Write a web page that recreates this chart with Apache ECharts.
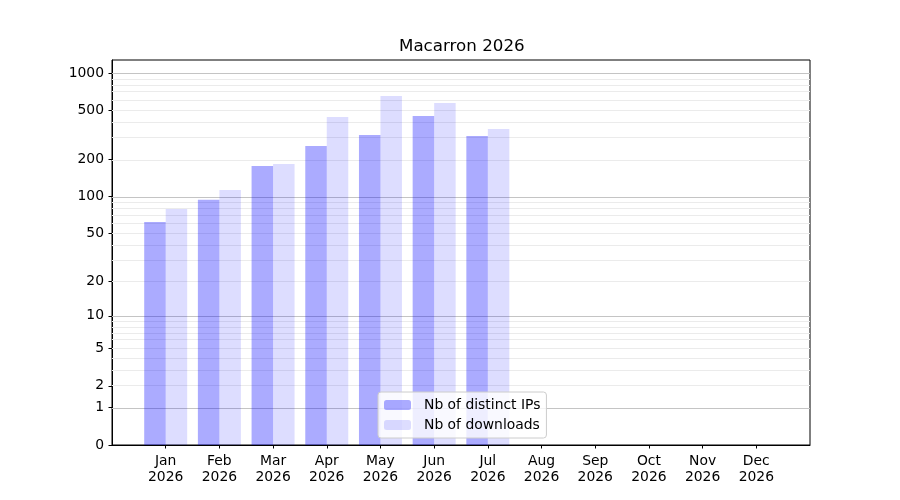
<!DOCTYPE html>
<html lang="en">
<head>
	<meta charset="UTF-8">
	<title>Macarron 2026</title>
	<script src="https://cdn.jsdelivr.net/npm/echarts@6/dist/echarts.min.js"></script>
	<style>
		html, body{
			width: 100%;
			height: 100%;
			padding: 0;
			margin: 0;
			background-color: #fff;
		}
		#main{
			width: 900px;
			height: 500px;
		}
	</style>
</head>
<body>
	<div id="main"></div>
</body>
<script>
	// 数据
	let months = ['Jan', 'Feb', 'Mar', 'Apr', 'May', 'Jun', 'Jul', 'Aug', 'Sep', 'Oct', 'Nov', 'Dec'];
	let year = '2026';
	let ipsData = [62, 94, 177, 257, 315, 450, 310, 0, 0, 0, 0, 0];
	let downloadsData = [79, 113, 184, 441, 652, 572, 353, 0, 0, 0, 0, 0];
	let yTicks = [0, 1, 2, 5, 10, 20, 50, 100, 200, 500, 1000];
	let majorGrid = [1, 10, 100, 1000];
	let minorGrid = [2, 3, 4, 5, 6, 7, 8, 9, 20, 30, 40, 50, 60, 70, 80, 90, 200, 300, 400, 500, 600, 700, 800, 900];

	// y = log10(1 + v)
	function tf(v){
		return Math.log10(1 + v);
	}

	let font = 'DejaVu Sans';
	// 前后各留一个空位
	let cats = [''].concat(months.map(m => m + '\n' + year), ['']);
	let pad = arr => ['-'].concat(arr.map(v => tf(v)), ['-']);

	let gridLines = [];
	minorGrid.forEach(v => {
		gridLines.push({yAxis: tf(v), lineStyle: {color: '#ebebeb', width: 1, type: 'solid'}});
	});
	majorGrid.forEach(v => {
		gridLines.push({yAxis: tf(v), lineStyle: {color: '#c4c4c4', width: 1, type: 'solid'}});
	});

	let myChart = echarts.init(document.getElementById('main'));
	myChart.setOption({
		animation: false,
		textStyle: {fontFamily: font},
		title: {
			text: 'Macarron 2026',
			left: 394,
			top: 33,
			textStyle: {fontFamily: font, fontSize: 16.7, fontWeight: 'normal', color: '#000'}
		},
		legend: {
			orient: 'vertical',
			left: 378,
			top: 392,
			itemWidth: 27,
			itemHeight: 10,
			itemGap: 6,
			padding: [6, 6, 6, 6],
			backgroundColor: 'rgba(255,255,255,0.8)',
			borderColor: '#cccccc',
			borderWidth: 1,
			borderRadius: 3,
			textStyle: {fontFamily: font, fontSize: 13.9, color: '#000', padding: [0, 0, 0, 8]},
			data: ['Nb of distinct IPs', 'Nb of downloads']
		},
		grid: {
			left: 112,
			right: 90,
			top: 60,
			bottom: 55,
			show: true,
			borderColor: '#000',
			borderWidth: 1,
			containLabel: false
		},
		xAxis: {
			type: 'category',
			data: cats,
			boundaryGap: false,
			axisLine: {lineStyle: {color: '#000', width: 1}},
			axisTick: {
				length: 3.5,
				lineStyle: {color: '#000'},
				interval: function(i){ return i > 0 && i < cats.length - 1; }
			},
			axisLabel: {
				interval: 0,
				margin: 8,
				fontFamily: font,
				fontSize: 13.9,
				lineHeight: 16,
				color: '#000'
			},
			splitLine: {show: false}
		},
		yAxis: {
			type: 'value',
			min: 0,
			max: 3.105,
			axisLine: {show: true, lineStyle: {color: '#000', width: 1}},
			axisTick: {
				show: true,
				length: 3.5,
				lineStyle: {color: '#000'},
				customValues: yTicks.map(tf)
			},
			axisLabel: {
				margin: 8,
				fontFamily: font,
				fontSize: 13.9,
				color: '#000',
				customValues: yTicks.map(tf),
				formatter: function(v){
					return String(Math.round(Math.pow(10, v) - 1));
				}
			},
			splitLine: {show: false}
		},
		series: [
			{
				name: 'Nb of distinct IPs',
				type: 'bar',
				data: pad(ipsData),
				barWidth: 21.5,
				barGap: '0%',
				itemStyle: {color: 'rgba(0,0,255,0.33)'},
				z: 2,
				markLine: {
					silent: true,
					symbol: 'none',
					label: {show: false},
					z: 1,
					animation: false,
					data: gridLines
				}
			},
			{
				name: 'Nb of downloads',
				type: 'bar',
				data: pad(downloadsData),
				barWidth: 21.5,
				barGap: '0%',
				itemStyle: {color: 'rgba(0,0,255,0.133)'},
				z: 2
			}
		]
	});
</script>
</html>
